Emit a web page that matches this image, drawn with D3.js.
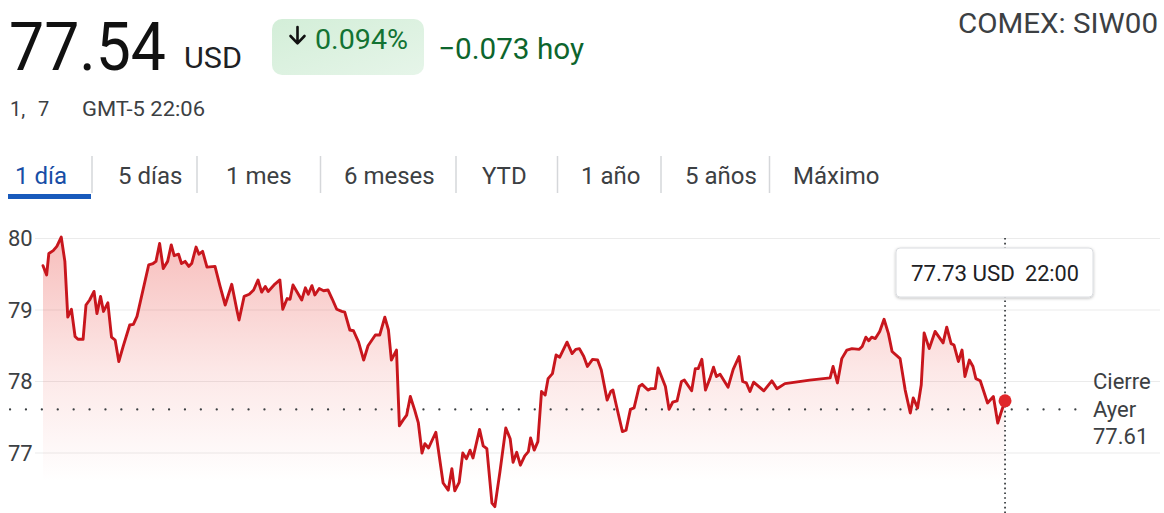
<!DOCTYPE html>
<html>
<head>
<meta charset="utf-8">
<script src="https://cdn.jsdelivr.net/npm/d3@7/dist/d3.min.js"></script>
<style>
  html, body { margin: 0; padding: 0; background: #ffffff; }
  svg { display: block; font-family: Roboto, "Liberation Sans", Arial, sans-serif; }
</style>
</head>
<body>
<svg id="chart" width="1164" height="513"></svg>
<script>
// ---------- data ----------
// minutes after 00:00 (GMT-5) for each sample of the 1-day chart
const minutes = [0,5,8,14,19,25,30,34,39,44,48,55,59,64,70,74,79,83,89,94,99,104,110,119,124,129,145,151,155,160,165,171,176,180,186,190,195,200,204,210,214,219,225,236,243,250,259,266,269,276,283,289,295,300,305,309,317,325,329,335,339,343,355,360,364,369,373,379,385,391,397,403,410,414,421,426,433,440,446,456,462,469,474,478,485,489,494,499,504,510,515,520,524,529,539,549,556,561,565,571,576,581,586,590,599,604,609,616,620,627,635,641,645,650,655,661,666,669,674,679,684,689,693,699,704,709,719,726,731,736,742,747,754,761,766,774,779,782,787,795,800,806,811,818,822,830,834,840,844,849,854,859,864,870,876,880,890,895,899,904,909,915,920,924,929,940,947,955,960,965,970,975,989,1000,1007,1018,1052,1080,1084,1090,1096,1103,1110,1120,1124,1129,1133,1137,1142,1148,1154,1160,1165,1176,1183,1190,1194,1200,1205,1209,1216,1224,1235,1240,1246,1250,1256,1261,1265,1271,1276,1280,1286,1296,1304,1310,1315,1320];
// price in USD
const prices = [79.62,79.49,79.79,79.83,79.89,80.02,79.68,78.90,79.01,78.63,78.59,78.59,79.07,79.14,79.26,78.95,79.19,78.98,79.10,78.62,78.58,78.28,78.49,78.79,78.80,78.91,79.63,79.65,79.68,79.93,79.58,79.68,79.91,79.76,79.78,79.65,79.68,79.61,79.65,79.88,79.78,79.82,79.60,79.61,79.33,79.07,79.36,79.00,78.86,79.19,79.22,79.28,79.42,79.25,79.33,79.26,79.35,79.42,79.01,79.16,79.15,79.35,79.14,79.31,79.22,79.34,79.21,79.30,79.27,79.28,79.15,79.01,78.98,78.97,78.72,78.71,78.55,78.30,78.50,78.65,78.65,78.90,78.72,78.30,78.44,77.38,77.46,77.53,77.79,77.60,77.42,77.00,77.13,77.07,77.29,76.58,76.48,76.78,76.47,76.59,77.00,76.92,77.04,76.93,77.33,77.10,77.06,76.30,76.25,76.74,77.35,77.20,76.87,77.01,76.83,76.96,77.02,77.21,77.04,77.16,77.86,77.81,78.04,78.11,78.37,78.34,78.55,78.39,78.45,78.46,78.35,78.21,78.31,78.30,78.16,77.74,77.86,77.88,77.65,77.30,77.32,77.61,77.63,77.93,77.96,77.88,77.90,77.90,78.19,78.06,77.93,77.61,77.71,77.73,78.00,78.02,77.87,78.18,78.18,78.31,77.88,78.04,78.20,78.07,78.10,77.92,78.17,78.35,78.00,77.98,77.86,77.99,77.87,78.01,77.90,77.97,78.02,78.05,78.21,77.98,78.32,78.44,78.46,78.45,78.49,78.62,78.57,78.62,78.60,78.70,78.87,78.67,78.42,78.32,77.88,77.56,77.77,77.63,77.95,78.68,78.46,78.70,78.54,78.76,78.53,78.51,78.28,78.44,78.07,78.30,78.21,78.04,78.01,77.70,77.79,77.42,77.58,77.73];
const yTicks = [77, 78, 79, 80];
const previousClose = 77.61;
const hoverMinute = 1320;       // 22:00
const hoverPrice = 77.73;
const hoverTime = "22:00";

const lastPrice = "77.54";
const currency = "USD";
const pctChange = "0.094%";
const absChange = "\u22120.073 hoy";
const ticker = "COMEX: SIW00";
const tabs = ["1 día", "5 días", "1 mes", "6 meses", "YTD", "1 año", "5 años", "Máximo"];
const tabX = [15, 118, 226, 344, 482, 581, 685, 793];
const sepX = [92, 197, 320.5, 456, 557.5, 661, 769.5];

// ---------- drawing ----------
const svg = d3.select("#chart");
const data = minutes.map((m, i) => ({ m, v: prices[i] }));

const x = d3.scaleLinear().domain([0, 1440]).range([43, 1092.5]);
const y = d3.scaleLinear().domain([77, 80]).range([453, 238.5]);

const defs = svg.append("defs");
const grad = defs.append("linearGradient").attr("id", "fillGrad")
  .attr("gradientUnits", "userSpaceOnUse").attr("x1", 0).attr("x2", 0)
  .attr("y1", y(80)).attr("y2", y(76.6));
grad.append("stop").attr("offset", 0).attr("stop-color", "#e8403a").attr("stop-opacity", 0.34);
grad.append("stop").attr("offset", 0.55).attr("stop-color", "#e8403a").attr("stop-opacity", 0.12);
grad.append("stop").attr("offset", 1).attr("stop-color", "#e8403a").attr("stop-opacity", 0);

const badge = defs.append("linearGradient").attr("id", "badgeGrad")
  .attr("x1", 0).attr("y1", 0).attr("x2", 1).attr("y2", 1);
badge.append("stop").attr("offset", 0).attr("stop-color", "#d3eed8");
badge.append("stop").attr("offset", 1).attr("stop-color", "#e6f5e9");

const shadow = defs.append("filter").attr("id", "shadow")
  .attr("x", "-10%").attr("y", "-20%").attr("width", "120%").attr("height", "150%");
shadow.append("feDropShadow").attr("dx", 0).attr("dy", 1).attr("stdDeviation", 1.5)
  .attr("flood-color", "#000").attr("flood-opacity", 0.25);

// header
svg.append("text").attr("x", 9).attr("y", 70).attr("font-size", 66).attr("fill", "#111")
  .attr("textLength", 157).attr("lengthAdjust", "spacingAndGlyphs").text(lastPrice);
svg.append("text").attr("x", 184).attr("y", 68).attr("font-size", 29).attr("fill", "#202124")
  .attr("textLength", 58).attr("lengthAdjust", "spacingAndGlyphs").text(currency);

svg.append("rect").attr("x", 272).attr("y", 19).attr("width", 152).attr("height", 56)
  .attr("rx", 10).attr("fill", "url(#badgeGrad)");
svg.append("path").attr("d", "M297.5,27 V43 M290.5,36 L297.5,43.3 L304.5,36")
  .attr("fill", "none").attr("stroke", "#111").attr("stroke-width", 2.6)
  .attr("stroke-linecap", "round").attr("stroke-linejoin", "round");
svg.append("text").attr("x", 315).attr("y", 48.5).attr("font-size", 28).attr("fill", "#137333")
  .attr("textLength", 93).attr("lengthAdjust", "spacingAndGlyphs").text(pctChange);
svg.append("text").attr("x", 438).attr("y", 58.5).attr("font-size", 30).attr("fill", "#0d652d")
  .attr("textLength", 146).attr("lengthAdjust", "spacingAndGlyphs").text(absChange);
svg.append("text").attr("x", 958).attr("y", 33).attr("font-size", 27).attr("fill", "#3c4043")
  .attr("textLength", 200).attr("lengthAdjust", "spacingAndGlyphs").text(ticker);

svg.append("text").attr("x", 10).attr("y", 116).attr("font-size", 20).attr("fill", "#3c4043").text("1,");
svg.append("text").attr("x", 38).attr("y", 116).attr("font-size", 20).attr("fill", "#3c4043").text("7");
svg.append("text").attr("x", 82).attr("y", 116).attr("font-size", 20).attr("fill", "#3c4043")
  .attr("textLength", 123).attr("lengthAdjust", "spacingAndGlyphs").text("GMT-5 22:06");

// tabs
svg.selectAll("text.tab").data(tabs).join("text").attr("class", "tab")
  .attr("x", (d, i) => tabX[i]).attr("y", 184).attr("font-size", 24)
  .attr("fill", (d, i) => i === 0 ? "#174ea6" : "#3c4043").text(d => d);
svg.selectAll("line.sep").data(sepX).join("line").attr("class", "sep")
  .attr("x1", d => d).attr("x2", d => d).attr("y1", 156).attr("y2", 193)
  .attr("stroke", "#d5d7da").attr("stroke-width", 1.5);
svg.append("rect").attr("x", 8).attr("y", 194).attr("width", 83).attr("height", 5)
  .attr("fill", "#185abc");

// grid + y labels
svg.selectAll("line.grid").data(yTicks).join("line").attr("class", "grid")
  .attr("x1", 35).attr("x2", 1160).attr("y1", d => y(d)).attr("y2", d => y(d))
  .attr("stroke", "#ebebeb").attr("stroke-width", 1.2);
svg.selectAll("text.ylab").data(yTicks).join("text").attr("class", "ylab")
  .attr("x", 8).attr("y", d => y(d)).attr("dy", "0.36em").attr("font-size", 22)
  .attr("fill", "#3c4043").text(d => d);

// area + line
const area = d3.area().x(d => x(d.m)).y0(513).y1(d => y(d.v));
svg.append("path").datum(data).attr("d", area).attr("fill", "url(#fillGrad)");

// previous close dotted line
svg.append("line").attr("x1", 10).attr("x2", 1088)
  .attr("y1", y(previousClose)).attr("y2", y(previousClose))
  .attr("stroke", "#3c4043").attr("stroke-width", 2.2)
  .attr("stroke-dasharray", "0.1,15.8").attr("stroke-linecap", "round");

// hover vertical line
svg.append("line").attr("x1", x(hoverMinute)).attr("x2", x(hoverMinute))
  .attr("y1", 238).attr("y2", 513)
  .attr("stroke", "#3c4043").attr("stroke-width", 1.8)
  .attr("stroke-dasharray", "1.6,3.2");

const line = d3.line().x(d => x(d.m)).y(d => y(d.v)).curve(d3.curveLinear);
svg.append("path").datum(data).attr("d", line).attr("fill", "none")
  .attr("stroke", "#c8161d").attr("stroke-width", 2.9)
  .attr("stroke-linejoin", "round").attr("stroke-linecap", "round");

svg.append("circle").attr("cx", x(hoverMinute)).attr("cy", y(hoverPrice)).attr("r", 6.5)
  .attr("fill", "#e0282b");

// tooltip
svg.append("rect").attr("x", 896).attr("y", 248).attr("width", 197).attr("height", 49)
  .attr("rx", 4).attr("fill", "#fff").attr("stroke", "#dadce0").attr("stroke-width", 1)
  .attr("filter", "url(#shadow)");
svg.append("text").attr("x", 911).attr("y", 281).attr("font-size", 22).attr("fill", "#202124")
  .attr("textLength", 104).attr("lengthAdjust", "spacingAndGlyphs")
  .text(hoverPrice.toFixed(2) + " USD");
svg.append("text").attr("x", 1025).attr("y", 281).attr("font-size", 22).attr("fill", "#202124")
  .attr("textLength", 54).attr("lengthAdjust", "spacingAndGlyphs").text(hoverTime);

// previous close label
const closeLabel = ["Cierre", "Ayer", previousClose.toFixed(2)];
svg.selectAll("text.close").data(closeLabel).join("text").attr("class", "close")
  .attr("x", 1093).attr("y", (d, i) => 389 + i * 27.5).attr("font-size", 22)
  .attr("fill", "#3c4043").text(d => d);
</script>
</body>
</html>
